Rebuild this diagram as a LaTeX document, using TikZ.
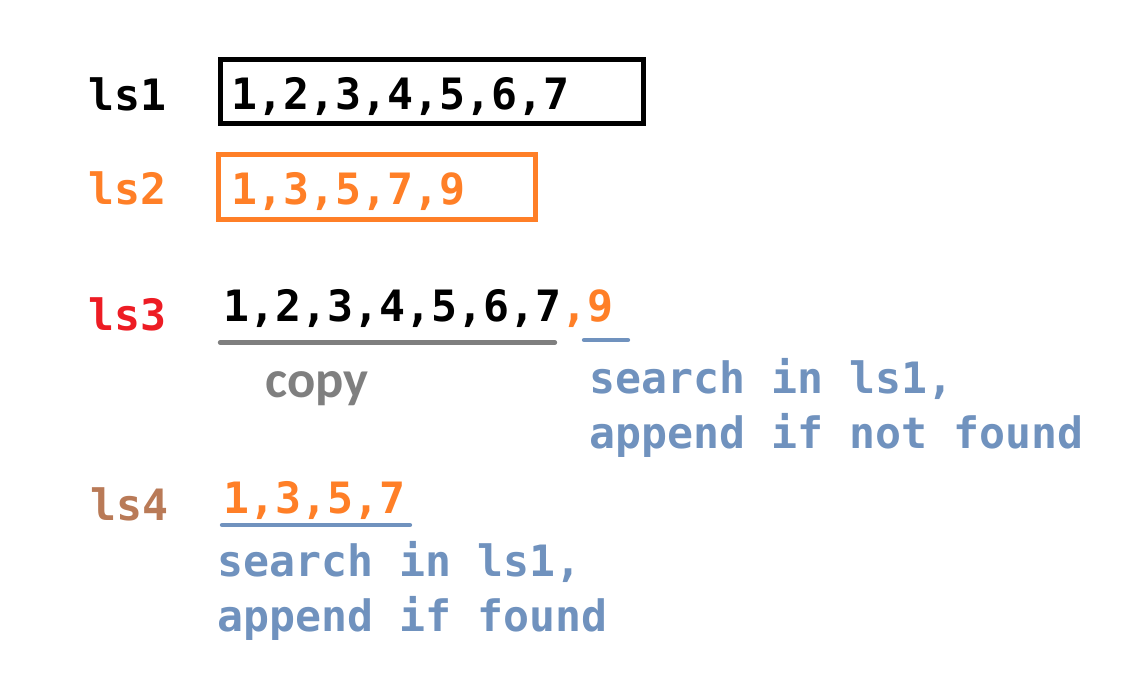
\documentclass[tikz,border=0pt]{standalone}
\usepackage{fontspec}
\setmonofont{DejaVu Sans Mono}
\newfontfamily\copyfont{Carlito}
\definecolor{myorange}{RGB}{255,127,39}
\definecolor{myred}{RGB}{237,28,36}
\definecolor{myblue}{RGB}{112,146,190}
\definecolor{mybrown}{RGB}{185,122,87}
\definecolor{mygray}{RGB}{127,127,127}
\tikzset{
  mono/.style={font=\fontsize{32.4pt}{41pt}\selectfont\ttfamily\bfseries, inner sep=0pt, anchor=base west},
  cpy/.style={font=\fontsize{39.5pt}{46pt}\selectfont\copyfont\bfseries, inner sep=0pt, anchor=base west},
  boxnode/.style={draw, line width=3.75pt, inner sep=0pt, anchor=north west},
  uline/.style={line width=3.2pt, line cap=round},
}
\begin{document}
\begin{tikzpicture}[x=0.75pt,y=-0.75pt]
\useasboundingbox (0,0) rectangle (1148,696);
% row 1
\node[mono] (l1) at (88,110) {ls1};
\node[boxnode, minimum width=317.25pt, minimum height=48pt] (box1) at (217.5,56.5) {};
\node[mono] (t1) at (231,109) {1,2,3,4,5,6,7};
% row 2
\node[mono, text=myorange] (l2) at (88,204) {ls2};
\node[boxnode, draw=myorange, minimum width=237.4pt, minimum height=48.75pt] (box2) at (216,151.5) {};
\node[mono, text=myorange] (t2) at (231,204) {1,3,5,7,9};
% row 3
\node[mono, text=myred] (l3) at (88,330) {ls3};
\node[mono] (t3) at (223,321) {1,2,3,4,5,6,7\textcolor{myorange}{,9}};
\coordinate (g1) at (220,342.5);
\coordinate (g2) at (555,342.5);
\draw[uline, mygray] (g1) -- (g2);
\coordinate (b1) at (584,340);
\coordinate (b2) at (628,340);
\draw[uline, myblue] (b1) -- (b2);
\node[cpy, text=mygray] (cp) at (265,397) {copy};
\node[mono, text=myblue] (s1) at (589,393) {search in ls1,};
\node[mono, text=myblue] (s2) at (589,448) {append if not found};
% row 4
\node[mono, text=mybrown] (l4) at (90,520) {ls4};
\node[mono, text=myorange] (t4) at (223,513) {1,3,5,7};
\coordinate (c1) at (222,525);
\coordinate (c2) at (410,525);
\draw[uline, myblue] (c1) -- (c2);
\node[mono, text=myblue] (s3) at (217,576) {search in ls1,};
\node[mono, text=myblue] (s4) at (217,631) {append if found};
\end{tikzpicture}
\end{document}
